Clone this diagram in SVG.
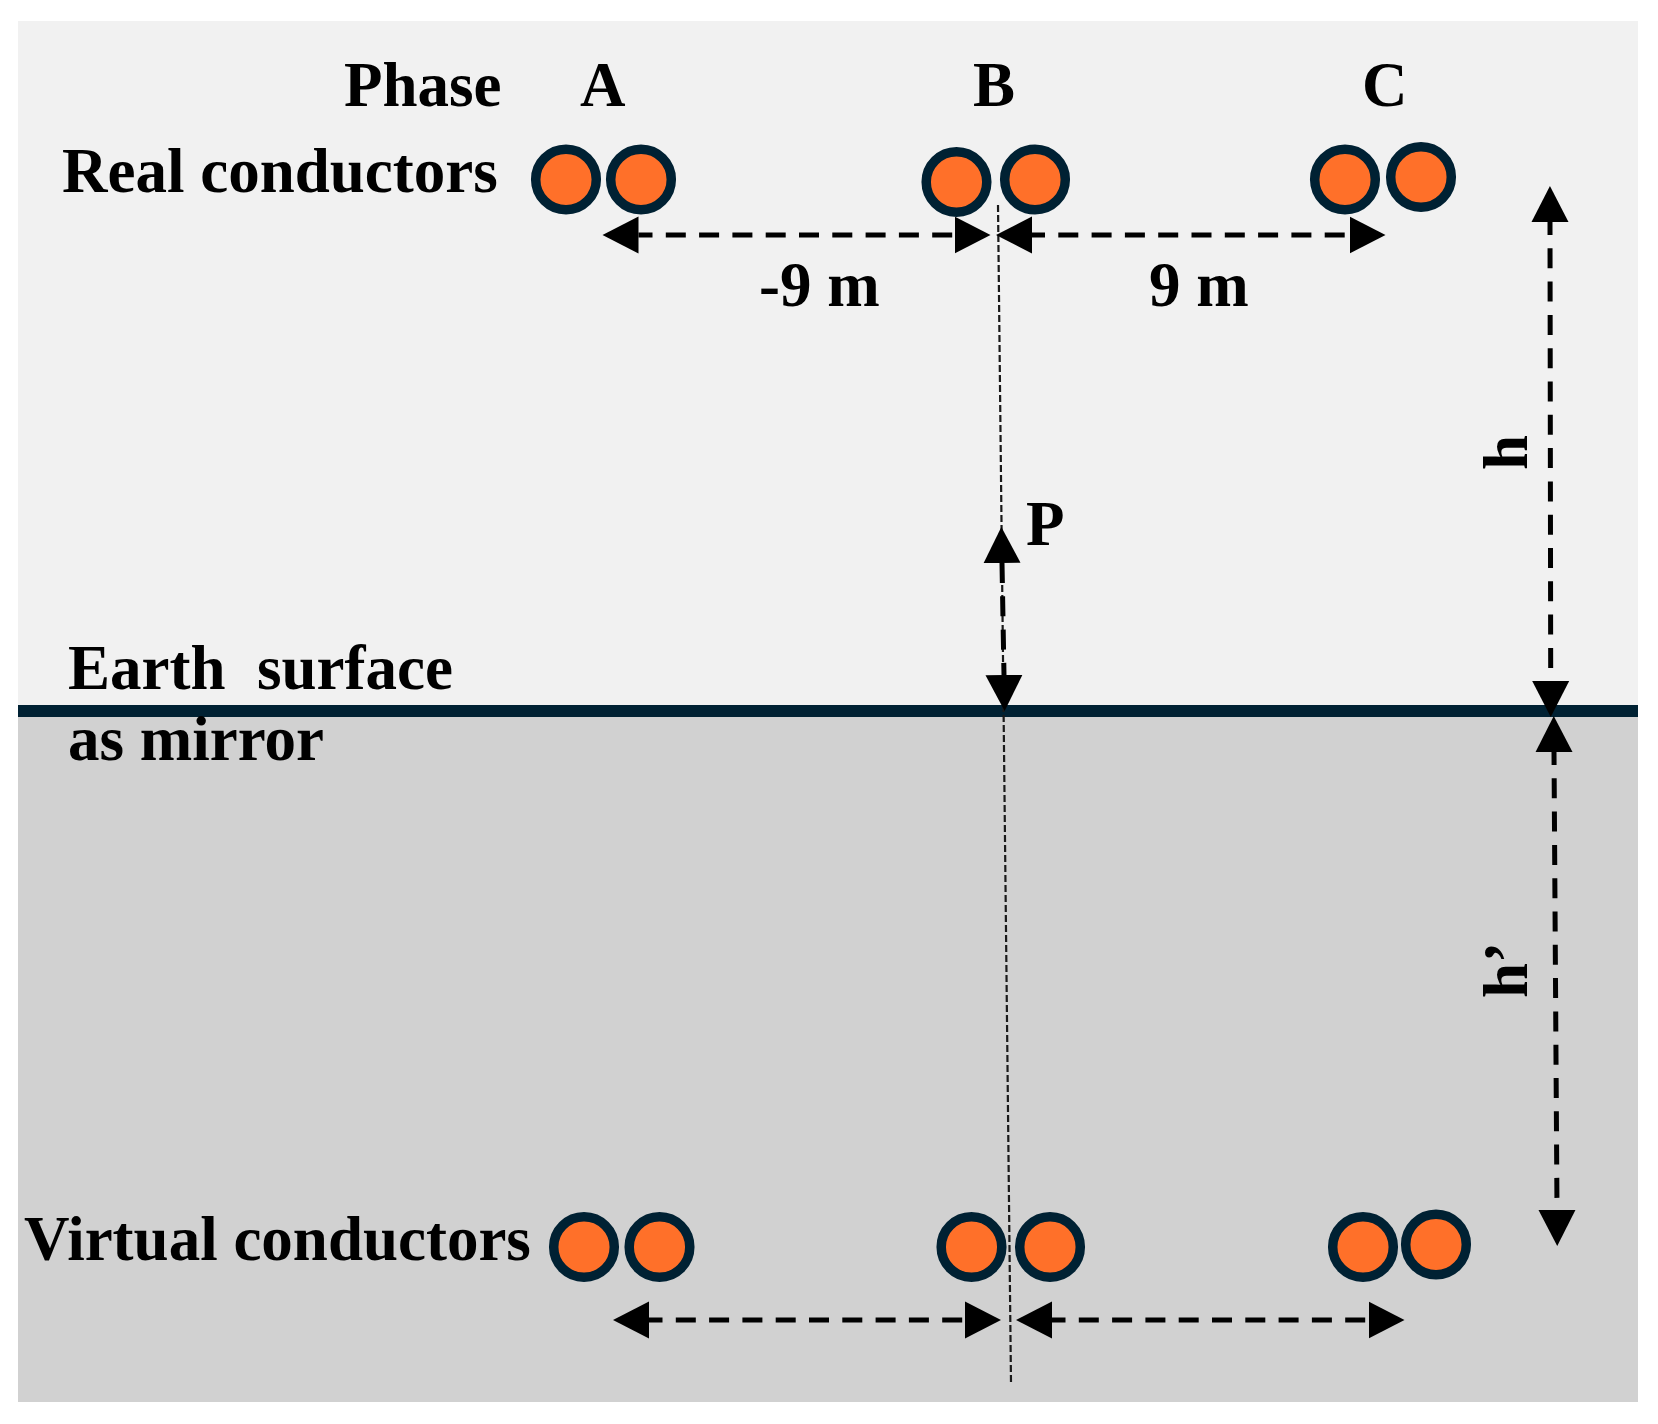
<svg xmlns="http://www.w3.org/2000/svg" width="1658" height="1424" viewBox="0 0 1658 1424">
<style>
text{font-family:"Liberation Serif","Times New Roman",serif;font-weight:700;font-size:63px;fill:#000;white-space:pre}
.c{fill:#ff7029;stroke:#002133;stroke-width:9.5}
.d{fill:none;stroke:#000;stroke-width:5;stroke-dasharray:20 13.3;marker-start:url(#ah);marker-end:url(#ah)}
.t{fill:none;stroke:#1a1a1a;stroke-width:2.2;stroke-dasharray:7 3}
</style>
<defs>
<marker id="ah" markerUnits="userSpaceOnUse" viewBox="0 -19 37 38" refX="0" refY="0" markerWidth="37" markerHeight="38" orient="auto-start-reverse"><path d="M0,-18.5L36,0L0,18.5Z" fill="#000"/></marker>
</defs>
<rect width="1658" height="1424" fill="#fff"/>
<g id="upper-space"><rect x="18" y="21" width="1620" height="690" fill="#f1f1f1"/></g>
<g id="lower-space"><rect x="18" y="711" width="1620" height="691" fill="#d1d1d1"/></g>
<g id="earth-surface"><rect x="18" y="705" width="1620" height="12" fill="#002133"/></g>
<g id="connectors">
<line class="t" x1="998" y1="205" x2="1011" y2="1383"/>
<line class="d" x1="638.5" y1="235" x2="954.5" y2="235" stroke-dashoffset="6"/>
<line class="d" x1="1032" y1="235" x2="1349.5" y2="235" stroke-dashoffset="7"/>
<line class="d" x1="649" y1="1320" x2="965" y2="1320" stroke-dashoffset="6.5"/>
<line class="d" x1="1052" y1="1320" x2="1368.5" y2="1320" stroke-dashoffset="6.5"/>
<line class="d" x1="1550" y1="222" x2="1550.7" y2="681" stroke-dashoffset="7"/>
<line class="d" x1="1554" y1="752" x2="1557" y2="1210" stroke-dashoffset="7"/>
<line class="d" x1="1002" y1="563" x2="1004" y2="675"/>
</g>
<g id="real-a"><circle class="c" cx="566" cy="179.5" r="30.3"/><circle class="c" cx="641" cy="179.5" r="30.3"/></g>
<g id="real-b"><circle class="c" cx="956.5" cy="182" r="30.3"/><circle class="c" cx="1035" cy="179.5" r="30.3"/></g>
<g id="real-c"><circle class="c" cx="1345" cy="179.5" r="30.3"/><circle class="c" cx="1421" cy="177" r="30.3"/></g>
<g id="virtual-a"><circle class="c" cx="584" cy="1247" r="30.3"/><circle class="c" cx="659.5" cy="1247" r="30.3"/></g>
<g id="virtual-b"><circle class="c" cx="971.5" cy="1247" r="30.3"/><circle class="c" cx="1050" cy="1247" r="30.3"/></g>
<g id="virtual-c"><circle class="c" cx="1363" cy="1247" r="30.3"/><circle class="c" cx="1436" cy="1244.5" r="30.3"/></g>
<g id="labels">
<text x="344" y="105.5">Phase</text>
<text x="580" y="105.5">A</text>
<text x="973" y="105.5">B</text>
<text x="1362" y="105.5">C</text>
<text x="62" y="192">Real conductors</text>
<text x="759" y="306">-9 m</text>
<text x="1149" y="306">9 m</text>
<text x="1026" y="545">P</text>
<text x="68" y="689">Earth  surface</text>
<text x="68" y="760">as mirror</text>
<text x="24" y="1260">Virtual conductors</text>
<text transform="translate(1527 470) rotate(-90)">h</text>
<text transform="translate(1527 998) rotate(-90)">h’</text>
</g>
</svg>
